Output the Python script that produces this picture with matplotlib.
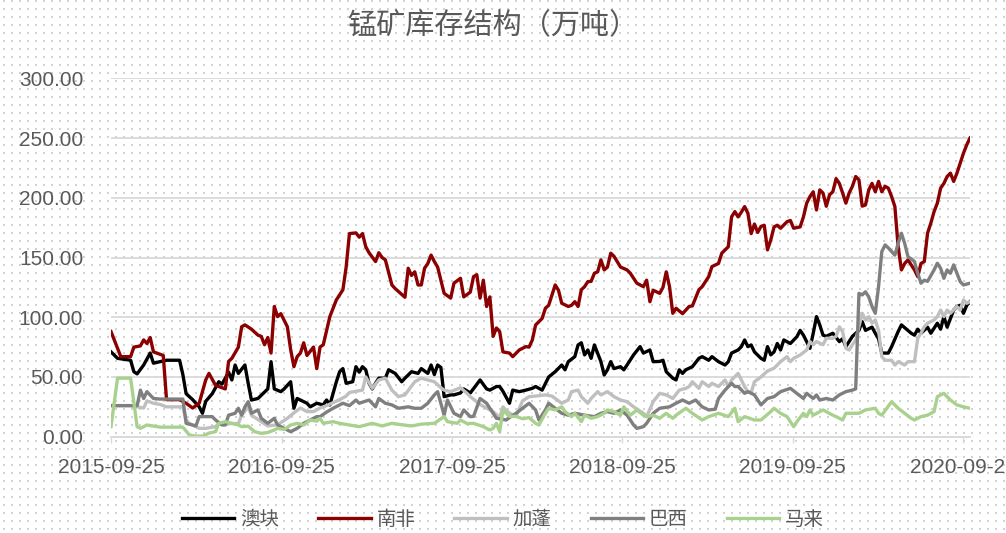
import numpy as np
import pandas as pd
import matplotlib
matplotlib.use("Agg")
import matplotlib.pyplot as plt
import matplotlib.dates as mdates
from matplotlib.ticker import FormatStrFormatter

plt.rcParams["font.family"] = ["Liberation Sans", "Noto Sans CJK SC", "DejaVu Sans"]

# 周序号(自2015-09-25起) 和 库存(万吨)
start = pd.Timestamp("2015-09-25")
last_week = 263

au = [(0,71),(2,65.6),(6,64),(7,54.4),(8,52.6),(10,60),(12,70),(13,61.5),(15,62.8),(17,64),(21,64),(22,52),(23,36),
      (25,31),(27,25),(28,19.6),(29,29.6),(31,36),(33,46),(34,44),(36,54),(37,47.5),(38,60),(39,53),(41,60),(42,44.7),
      (43,30.7),(45,32),(48,40),(49,62.8),(50,40),(52,37.7),(53,40),(55,46),(56,23.8),(57,32),(58,30.7),(60,28),(61,25),
      (63,28),(65,26.6),(66,30.7),(67,26.6),(69,46),(70,54.4),(71,57),(72,44.7),(74,46),(75,58.6),(76,54),(77,58.6),
      (78,56),(79,44.7),(80,40),(81,44.7),(82,49),(84,49),(85,56),(87,53),(89,46),(90,49),(92,54.4),(94,53),(95,57),
      (97,53),(98,60),(99,52),(100,60),(101,58),(102,33.5),(104,35),(105,35),(107,36.6),(108,40),(110,36.6),(113,47.5),
      (115,40),(116,39),(118,42),(119,42),(120,38),(122,28),(123,39),(125,37.7),(127,39),(129,40.5),(130,42),(132,39),
      (134,50),(136,54.4),(138,60),(139,56),(140,62.8),(142,67),(143,76.8),(144,78.6),(145,68.5),(146,72.6),(147,65.6),
      (148,76.8),(150,62.8),(151,51.7),(152,56),(153,62.8),(154,57),(156,58.6),(157,56),(158,60),(160,68.5),(162,75.4),
      (163,70),(165,72.6),(166,62.8),(168,63),(169,64),(170,54.4),(172,49),(173,47.5),(174,56),(175,53),(176,56),
      (178,58.6),(180,65.6),(181,67),(183,64),(184,67),(186,62.8),(188,60),(189,62.8),(190,70),(192,72.6),(193,75.4),
      (194,81),(195,75.4),(196,76.8),(197,71),(199,65.6),(200,64),(201,75.4),(202,68.5),(203,71),(204,78),(205,72.6),
      (206,81),(208,78),(210,83.7),(211,89),(212,85),(214,74),(215,86.6),(216,100.5),(217,93.6),(218,85),(219,84),
      (221,86.6),(223,79.6),(224,82),(225,75.4),(227,84),(229,89),(230,96.3),(231,89),(233,91.7),(234,86.6),(235,82),
      (236,70),(238,70),(239,75.4),(241,88),(242,93.6),(244,89),(245,86.6),(246,85),(247,90),(248,86.6),(250,91.7),
      (251,86.6),(253,95),(254,90),(255,100.5),(256,91.7),(258,106),(259,108.9),(260,110),(261,103.3),(262,110),(263,113)]

za = [(0,88),(3,67),(6,67),(7,75),(9,76),(10,81),(11,78),(12,83),(13,71),(15,69),(16,68),(17,31),(21,31),(23,28),
      (25,24),(27,28),(29,47.5),(30,53),(32,43),(35,40),(36,63),(37,65.6),(39,75),(40,92),(41,93.6),(43,90),(45,85),
      (46,84),(47,77),(48,83),(49,70),(50,109),(51,100.5),(52,103),(54,92),(55,73),(56,58.6),(57,67),(58,70),(59,78.6),
      (60,68),(62,75),(63,57),(64,75),(65,77),(67,100.5),(69,114.5),(71,123),(72,142),(73,170),(75,170.6),(76,167),
      (77,170),(78,159),(79,154),(81,146.6),(82,154),(83,150),(84,148),(86,127),(87,124),(90,116.7),(91,141),(92,135),
      (93,138),(94,127),(95,127),(96,141),(97,145),(98,152),(99,146.6),(100,142),(102,120),(104,116),(105,128.5),
      (107,132.6),(108,117),(110,121),(111,134),(112,135.6),(113,116),(114,131),(115,109),(116,117),(117,84),(118,91),
      (119,88),(120,71),(122,70),(123,67),(125,72.6),(127,75.4),(128,75),(129,81),(130,93.5),(132,99),(133,107.5),
      (134,110),(136,127),(137,122.6),(138,111.7),(140,109),(141,110),(142,113),(143,109),(144,123),(145,125.6),
      (146,129.8),(147,130),(148,136.8),(149,138),(150,148),(151,139.6),(152,142),(153,153.6),(154,151),(156,142),
      (158,139.6),(159,136.8),(161,128.5),(163,125.6),(164,131),(165,113),(166,122.6),(168,120),(169,125),(170,138),
      (171,125.6),(172,103.3),(173,107.5),(175,103),(177,109),(178,109.5),(180,123),(181,125.6),(183,134),(184,142.4),
      (186,145),(187,153.6),(189,159),(190,184),(191,188.4),(192,184),(193,188),(194,192.6),(195,187),(196,170),
      (197,178),(198,171),(199,176),(200,177),(201,156.4),(202,164.7),(203,175.6),(204,177),(205,174.5),(207,180),
      (208,181),(209,174.5),(211,175.6),(212,184),(213,195.5),(214,201),(215,205),(216,189.8),(217,206.6),(218,203.9),
      (219,192.9),(220,202.5),(221,205),(222,216),(223,212),(224,204),(225,195.5),(226,204),(227,209.6),(228,217.8),
      (229,215),(230,193),(231,194),(232,206.6),(233,212),(234,205),(235,213.7),(236,205),(237,209.6),(238,208),
      (239,201),(240,192.6),(241,159),(242,139.6),(243,145),(244,148),(245,143.8),(246,139.6),(247,134),(248,145),
      (249,146.6),(250,170.3),(251,178.7),(252,188.4),(253,195.5),(254,208),(255,212),(256,217.8),(257,220.6),
      (258,213.7),(259,220.6),(260,229),(261,237.3),(262,244.3),(263,250)]

ga = [(0,26),(6,26),(8,25),(10,24),(11,30),(13,28),(15,27),(17,25),(22,25),(23,14),(24,11),(27,7),(29,7),(32,8.4),
      (33,11),(39,11),(40,18),(42,25),(43,18),(46,12.6),(48,9),(51,10),(54,15.4),(56,20),(58,24),(60,21),(62,21),
      (64,24),(66,26),(70,31),(72,34),(73,37),(75,38),(77,39),(78,50),(80,40.5),(82,47.5),(84,49),(86,39),(88,33.5),
      (90,35),(93,46),(95,49),(97,47.5),(99,46),(101,41),(102,39),(104,37.7),(107,41),(109,36.3),(110,33.5),(113,27),
      (116,22.4),(117,21),(119,16),(120,25),(121,22),(122,20),(123,18),(124,17),(126,30),(128,33.5),(130,34),(133,35),
      (135,34),(138,28),(140,30.7),(141,37.7),(143,39),(144,33.5),(146,28),(147,32),(149,37.7),(150,35),(152,37.7),
      (154,33.5),(156,30.7),(158,29.3),(160,25),(163,19.6),(164,16.8),(166,29.3),(168,36.3),(170,35),(172,32),(174,39),
      (176,40.5),(177,42),(178,46),(180,40.5),(181,46),(183,42),(184,44.7),(186,42),(188,47.5),(189,42),(190,47.5),
      (192,53),(194,42),(195,37.7),(196,37),(197,46),(198,48),(199,50),(201,55),(203,57.3),(205,62.8),(207,67),
      (208,62.8),(209,65.6),(211,68.4),(213,72.6),(214,79.6),(215,77),(216,79.6),(218,77),(219,82.4),(221,82.4),
      (222,84),(223,92),(224,88),(225,74),(226,72.6),(227,77),(228,81),(230,103.3),(231,97.7),(232,100.5),(233,95),
      (234,97.7),(235,89),(236,67),(237,64),(239,64),(240,60),(241,62.8),(243,60),(244,62.8),(246,62.8),(247,82.4),
      (248,86.6),(249,92),(250,95),(252,97.7),(253,100.5),(254,106),(255,100.5),(256,106),(257,103.3),(259,108.9),
      (260,106),(261,114.5),(262,111.7),(263,113)]

br = [(0,26),(8,26),(9,39),(10,32),(11,37.7),(13,32),(15,31.5),(22,31.5),(23,11.2),(25,9.8),(26,9),(27,16.8),
      (31,16.8),(32,14),(34,9.8),(35,9.8),(36,18),(38,19.6),(39,23.8),(40,18),(41,25),(42,29.3),(43,19.6),(45,22.4),
      (46,15.4),(48,11.2),(50,15.4),(51,9.8),(53,7),(55,4.2),(57,7),(59,11.2),(61,14),(63,16.8),(64,16.8),(66,20.6),
      (68,23.8),(71,28),(73,26),(75,30.7),(76,28),(79,30.7),(81,25),(82,32),(84,28),(86,26.6),(88,23.8),(91,25),
      (93,23.8),(95,23.8),(97,28),(99,35),(100,37.7),(101,28),(102,18),(103,30.7),(105,19.6),(107,16.8),(108,22.4),
      (110,16.8),(111,17),(113,32),(115,28),(117,19.6),(118,15.4),(121,14),(122,16),(124,19.6),(126,23.8),(128,28),
      (130,22.4),(131,14),(133,22.4),(134,28),(136,23.8),(138,19.6),(140,18),(142,19.6),(145,18),(148,16.8),(150,19.6),
      (152,21),(154,19.6),(156,22.4),(158,18),(160,9.8),(161,7),(163,8.4),(164,11.2),(166,19.6),(168,23.8),(171,25),
      (173,28),(175,30.7),(177,28),(179,30.7),(181,25),(183,22.4),(185,23),(186,32),(188,39),(190,44.7),(191,42),
      (192,42),(194,36.3),(195,37.7),(197,35),(199,26.6),(201,32),(203,33.5),(205,37.7),(208,40.5),(210,36.3),(212,32),
      (213,36.3),(215,32),(216,34.9),(217,30.7),(219,32),(221,30.7),(223,35),(225,37.7),(227,39),(228,40),(229,120),
      (230,118.7),(231,121.3),(232,117),(233,109),(234,103.3),(235,125.6),(236,155),(237,160.5),(238,158),(240,152),
      (241,161.8),(242,170.3),(243,161.8),(244,150.8),(246,146.6),(247,136.8),(248,128.5),(249,131),(250,130),
      (252,139.6),(253,145.2),(254,141),(255,132.6),(256,139.6),(257,136.8),(258,143.8),(260,129.8),(261,127),(263,128.5)]

my = [(0,8.4),(2,49),(6,49),(8,8.4),(9,7),(11,9.8),(15,8),(22,8),(24,1.4),(26,0.5),(28,0.5),(30,3),(32,4.2),(33,11.2),
      (35,12.6),(37,11.2),(39,9.8),(40,8.4),(42,8.8),(44,4.2),(46,2.8),(48,3.5),(50,5.6),(51,7),(53,6),(55,9.8),(57,11.2),
      (59,9.8),(61,14),(63,13),(64,15.4),(65,11.2),(68,12.6),(70,11.2),(73,9.8),(76,8.4),(80,11.2),(83,9),(86,11.2),
      (89,10),(92,9),(95,10.5),(99,11.2),(101,15),(102,16.8),(103,12.6),(106,11.2),(107,14),(109,11),(111,11.2),
      (114,8.4),(116,5.6),(117,7),(118,11.2),(119,4.2),(120,22),(122,17),(124,17),(126,15),(128,16),(130,11.2),
      (131,9.8),(133,19.6),(134,23.8),(136,22.4),(138,25),(139,21),(141,16.8),(142,19.6),(144,12.6),(145,18),
      (147,15.4),(149,16.8),(151,19.6),(152,22.4),(154,21),(156,18),(157,25),(159,18),(161,22.4),(163,18),(164,16.8),
      (166,18),(168,15.4),(170,19.6),(172,15.4),(173,18),(176,23.8),(178,19.6),(181,14),(183,16.8),(186,19.6),
      (189,16.8),(191,23.8),(192,12.6),(194,16.8),(197,14),(199,14),(202,21),(203,23.8),(205,19.6),(207,16.8),(209,8.4),
      (210,12.6),(212,19.6),(213,16.8),(214,22.4),(215,18),(217,21),(218,22.4),(221,18),(222,16.8),(224,14),(225,19.6),
      (229,19.6),(231,22.4),(234,23.8),(235,19.6),(236,18),(239,29.3),(241,23.8),(243,19.6),(245,15.4),(246,14),
      (248,16.8),(250,18),(252,21),(253,33.5),(255,36.3),(257,30.7),(259,26.6),(261,25),(263,23.8)]

names = ["澳块", "南非", "加蓬", "巴西", "马来"]
colors = ["#000000", "#8B0000", "#BFBFBF", "#7F7F7F", "#A9D18E"]
tick_dates = ["2015-09-25", "2016-09-25", "2017-09-25", "2018-09-25", "2019-09-25", "2020-09-25"]

fig = plt.figure(figsize=(10.06, 5.33), dpi=100)

# 背景点阵
bg = fig.add_axes([0, 0, 1, 1], zorder=-1)
bg.set_xlim(0, 1006); bg.set_ylim(0, 533); bg.axis("off")
gx, gy = np.meshgrid(np.arange(4, 1006, 8), np.arange(4, 533, 8))
bg.scatter(gx.ravel(), gy.ravel(), s=0.8, color="#D2D2D2", marker="s", linewidths=0)

ax = fig.add_axes([111/1006, 1-436.7/533, (970-111)/1006, (436.7-78.3)/533])
ax.patch.set_alpha(0)

for data, name, c in zip([au, za, ga, br, my], names, colors):
    wk, val = zip(*data)
    d = start + pd.to_timedelta(np.array(wk) * 7, unit="D")
    ax.plot(d, val, color=c, lw=2.4, label=name, solid_joinstyle="round")

ax.set_ylim(0, 300)
ax.set_yticks(np.arange(0, 301, 50))
ax.yaxis.set_major_formatter(FormatStrFormatter("%.2f"))
ax.grid(axis="y", color="#D9D9D9", lw=1.3)
ax.set_axisbelow(True)
ax.set_xlim(start, start + pd.Timedelta(days=7*last_week))
ax.set_xticks(pd.to_datetime(tick_dates))
ax.xaxis.set_major_formatter(mdates.DateFormatter("%Y-%m-%d"))
for s in ["top", "right", "left"]:
    ax.spines[s].set_visible(False)
ax.spines["bottom"].set_color("#D9D9D9")
ax.spines["bottom"].set_linewidth(1.3)
ax.tick_params(axis="y", length=0, pad=20, labelsize=15, labelcolor="#595959")
ax.tick_params(axis="x", length=4, color="#D9D9D9", width=1, pad=11, labelsize=15, labelcolor="#595959")

fig.text(0.49, 1-25/533, "锰矿库存结构（万吨）", ha="center", va="center", fontsize=21,
         color="#595959", family=["Noto Sans CJK SC", "DejaVu Sans"])

fig.legend(loc="center", bbox_to_anchor=(0.5, 1-519/533), ncol=5, frameon=False,
           prop={"family": ["Noto Sans CJK SC", "DejaVu Sans"], "size": 14},
           labelcolor="#595959", handlelength=2.7, handletextpad=0.3, columnspacing=2.0)

fig.savefig("out.png", dpi=100)
